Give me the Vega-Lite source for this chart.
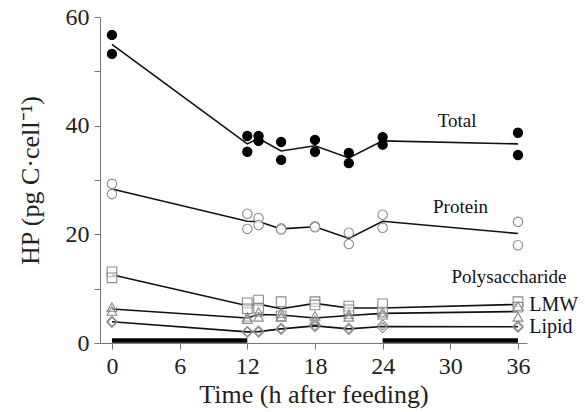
{
  "$schema": "https://vega.github.io/schema/vega-lite/v6.json",
  "width": 427,
  "height": 326,
  "autosize": {"type": "none"},
  "padding": {"left": 100, "top": 17, "right": 58, "bottom": 69},
  "background": "white",
  "config": {
    "view": {"stroke": null},
    "font": "Liberation Serif, Times New Roman, serif",
    "axis": {"grid": false, "domainColor": "#777", "tickColor": "#777", "labelColor": "#222", "titleColor": "#222", "labelFont": "Liberation Serif, Times New Roman, serif", "titleFont": "Liberation Serif, Times New Roman, serif", "titleFontWeight": "normal"}
  },
  "datasets": {
    "pts": [
      {"series": "Total", "t": 0, "hp": 56.7}, {"series": "Total", "t": 0, "hp": 53.2},
      {"series": "Total", "t": 12, "hp": 38.1}, {"series": "Total", "t": 12, "hp": 35.2},
      {"series": "Total", "t": 13, "hp": 38.1}, {"series": "Total", "t": 13, "hp": 37.2},
      {"series": "Total", "t": 15, "hp": 37.0}, {"series": "Total", "t": 15, "hp": 33.7},
      {"series": "Total", "t": 18, "hp": 37.4}, {"series": "Total", "t": 18, "hp": 35.2},
      {"series": "Total", "t": 21, "hp": 35.0}, {"series": "Total", "t": 21, "hp": 33.1},
      {"series": "Total", "t": 24, "hp": 37.9}, {"series": "Total", "t": 24, "hp": 36.5},
      {"series": "Total", "t": 36, "hp": 38.7}, {"series": "Total", "t": 36, "hp": 34.6},
      {"series": "Protein", "t": 0, "hp": 29.3}, {"series": "Protein", "t": 0, "hp": 27.4},
      {"series": "Protein", "t": 12, "hp": 23.8}, {"series": "Protein", "t": 12, "hp": 21.0},
      {"series": "Protein", "t": 13, "hp": 23.0}, {"series": "Protein", "t": 13, "hp": 21.7},
      {"series": "Protein", "t": 15, "hp": 21.1}, {"series": "Protein", "t": 15, "hp": 20.9},
      {"series": "Protein", "t": 18, "hp": 21.5}, {"series": "Protein", "t": 18, "hp": 21.3},
      {"series": "Protein", "t": 21, "hp": 20.3}, {"series": "Protein", "t": 21, "hp": 18.2},
      {"series": "Protein", "t": 24, "hp": 23.6}, {"series": "Protein", "t": 24, "hp": 21.2},
      {"series": "Protein", "t": 36, "hp": 22.3}, {"series": "Protein", "t": 36, "hp": 18.0},
      {"series": "Polysaccharide", "t": 0, "hp": 13.1}, {"series": "Polysaccharide", "t": 0, "hp": 12.0},
      {"series": "Polysaccharide", "t": 12, "hp": 7.4}, {"series": "Polysaccharide", "t": 12, "hp": 6.3},
      {"series": "Polysaccharide", "t": 13, "hp": 7.9}, {"series": "Polysaccharide", "t": 13, "hp": 6.4},
      {"series": "Polysaccharide", "t": 15, "hp": 7.6}, {"series": "Polysaccharide", "t": 15, "hp": 5.0},
      {"series": "Polysaccharide", "t": 18, "hp": 7.6}, {"series": "Polysaccharide", "t": 18, "hp": 7.0},
      {"series": "Polysaccharide", "t": 21, "hp": 6.8}, {"series": "Polysaccharide", "t": 21, "hp": 6.1},
      {"series": "Polysaccharide", "t": 24, "hp": 7.2}, {"series": "Polysaccharide", "t": 24, "hp": 5.7},
      {"series": "Polysaccharide", "t": 36, "hp": 7.6}, {"series": "Polysaccharide", "t": 36, "hp": 6.6},
      {"series": "LMW", "t": 0, "hp": 6.6}, {"series": "LMW", "t": 0, "hp": 5.9},
      {"series": "LMW", "t": 12, "hp": 4.8}, {"series": "LMW", "t": 12, "hp": 4.4},
      {"series": "LMW", "t": 13, "hp": 5.7}, {"series": "LMW", "t": 13, "hp": 4.8},
      {"series": "LMW", "t": 15, "hp": 5.5}, {"series": "LMW", "t": 15, "hp": 4.8},
      {"series": "LMW", "t": 18, "hp": 5.0}, {"series": "LMW", "t": 18, "hp": 4.2},
      {"series": "LMW", "t": 21, "hp": 5.3}, {"series": "LMW", "t": 21, "hp": 4.8},
      {"series": "LMW", "t": 24, "hp": 5.7}, {"series": "LMW", "t": 24, "hp": 5.2},
      {"series": "LMW", "t": 36, "hp": 6.8}, {"series": "LMW", "t": 36, "hp": 4.8},
      {"series": "Lipid", "t": 0, "hp": 4.0}, {"series": "Lipid", "t": 0, "hp": 3.8},
      {"series": "Lipid", "t": 12, "hp": 2.1}, {"series": "Lipid", "t": 12, "hp": 2.0},
      {"series": "Lipid", "t": 13, "hp": 2.2}, {"series": "Lipid", "t": 13, "hp": 2.0},
      {"series": "Lipid", "t": 15, "hp": 2.7}, {"series": "Lipid", "t": 15, "hp": 2.5},
      {"series": "Lipid", "t": 18, "hp": 3.3}, {"series": "Lipid", "t": 18, "hp": 3.0},
      {"series": "Lipid", "t": 21, "hp": 2.7}, {"series": "Lipid", "t": 21, "hp": 2.5},
      {"series": "Lipid", "t": 24, "hp": 3.3}, {"series": "Lipid", "t": 24, "hp": 2.8},
      {"series": "Lipid", "t": 36, "hp": 3.1}, {"series": "Lipid", "t": 36, "hp": 2.9}
    ],
    "bars": [{"start": 0, "end": 12, "y": 0.45}, {"start": 24, "end": 36, "y": 0.45}],
    "labelsC": [
      {"text": "Total", "t": 30.6, "hp": 40.9},
      {"text": "Protein", "t": 30.9, "hp": 25.1},
      {"text": "Polysaccharide", "t": 35.2, "hp": 12.1}
    ],
    "labelsL": [
      {"text": "LMW", "t": 37.0, "hp": 7.0},
      {"text": "Lipid", "t": 37.0, "hp": 3.0}
    ]
  },
  "layer": [
    {
      "data": {"name": "bars"},
      "mark": {"type": "rule", "color": "black", "strokeWidth": 4.5},
      "encoding": {
        "x": {"field": "start", "type": "quantitative", "scale": {"domain": [-1.06, 36.8], "nice": false, "zero": false},
          "axis": {"values": [0, 3, 6, 9, 12, 15, 18, 21, 24, 27, 30, 33, 36], "labelExpr": "datum.value % 6 == 0 ? datum.label : ''", "labelFontSize": 24, "labelPadding": 5, "tickSize": 6, "title": "Time (h after feeding)", "titleFontSize": 26, "titlePadding": 3, "labelFlush": false}},
        "x2": {"field": "end"},
        "y": {"field": "y", "type": "quantitative", "scale": {"domain": [0, 60], "nice": false},
          "axis": {"values": [0, 10, 20, 30, 40, 50, 60], "labelExpr": "datum.value % 20 == 0 ? datum.label : ''", "labelFontSize": 24, "labelPadding": 5, "tickSize": 6, "title": "HP (pg C·cell⁻¹)", "titleFontSize": 26, "titlePadding": 22, "labelFlush": false}}
      }
    },
    {
      "data": {"name": "pts"},
      "mark": {"type": "line", "color": "#111", "strokeWidth": 1.6},
      "encoding": {
        "x": {"field": "t", "type": "quantitative"},
        "y": {"aggregate": "mean", "field": "hp", "type": "quantitative"},
        "detail": {"field": "series"}
      }
    },
    {
      "data": {"name": "pts"},
      "mark": {"type": "point", "filled": false, "strokeWidth": 1.1, "opacity": 1},
      "encoding": {
        "x": {"field": "t", "type": "quantitative"},
        "y": {"field": "hp", "type": "quantitative"},
        "shape": {"field": "series", "type": "nominal", "legend": null,
          "scale": {"domain": ["Total", "Protein", "Polysaccharide", "LMW", "Lipid"], "range": ["circle", "circle", "square", "triangle-up", "diamond"]}},
        "stroke": {"field": "series", "type": "nominal", "legend": null,
          "scale": {"domain": ["Total", "Protein", "Polysaccharide", "LMW", "Lipid"], "range": ["#000", "#8a8a8a", "#8a8a8a", "#8a8a8a", "#8a8a8a"]}},
        "fill": {"field": "series", "type": "nominal", "legend": null,
          "scale": {"domain": ["Total", "Protein", "Polysaccharide", "LMW", "Lipid"], "range": ["#000", "#fff", "#fff", "#fff", "#fff"]}},
        "fillOpacity": {"field": "series", "type": "nominal", "legend": null,
          "scale": {"domain": ["Total", "Protein", "Polysaccharide", "LMW", "Lipid"], "range": [1, 0, 0, 0, 0]}},
        "size": {"field": "series", "type": "nominal", "legend": null,
          "scale": {"domain": ["Total", "Protein", "Polysaccharide", "LMW", "Lipid"], "range": [85, 100, 130, 55, 60]}}
      }
    },
    {
      "data": {"name": "labelsC"},
      "mark": {"type": "text", "fontSize": 19, "font": "Liberation Serif, Times New Roman, serif", "color": "#111", "baseline": "middle", "align": "center"},
      "encoding": {
        "x": {"field": "t", "type": "quantitative"},
        "y": {"field": "hp", "type": "quantitative"},
        "text": {"field": "text"}
      }
    },
    {
      "data": {"name": "labelsL"},
      "mark": {"type": "text", "fontSize": 20, "font": "Liberation Serif, Times New Roman, serif", "color": "#111", "baseline": "middle", "align": "left"},
      "encoding": {
        "x": {"field": "t", "type": "quantitative"},
        "y": {"field": "hp", "type": "quantitative"},
        "text": {"field": "text"}
      }
    }
  ]
}
